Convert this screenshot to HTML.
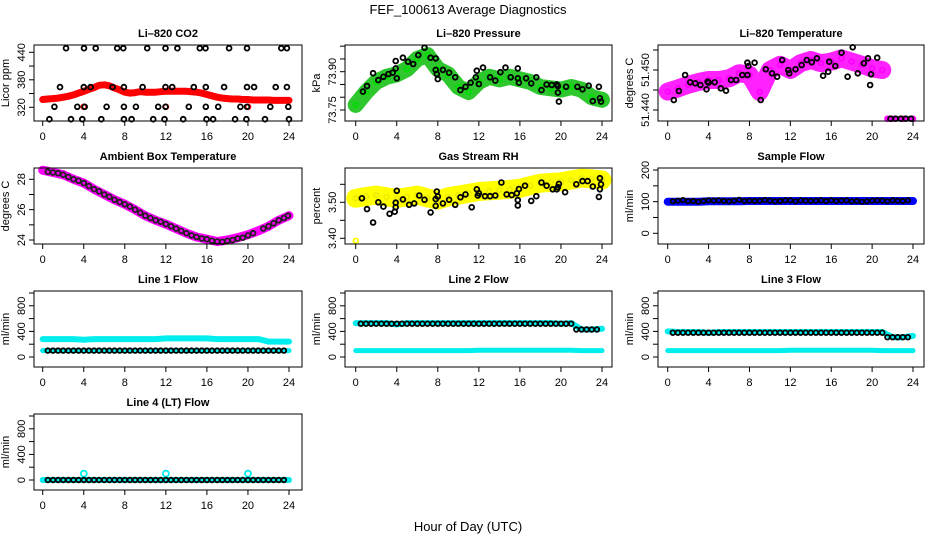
<!DOCTYPE html>
<html><head><meta charset="utf-8"><style>
html,body{margin:0;padding:0;background:#fff}
svg{display:block;font-family:"Liberation Sans",sans-serif}
</style></head><body>
<svg id="chart" width="936" height="540" viewBox="0 0 936 540" xmlns="http://www.w3.org/2000/svg">
<rect width="936" height="540" fill="#fff"/>
<text x="468" y="14" text-anchor="middle" font-size="13">FEF_100613  Average Diagnostics</text>
<text x="468" y="531" text-anchor="middle" font-size="13">Hour of Day (UTC)</text>
</svg>
<script>
// ---- data ----
const xTicks = [0,4,8,12,16,20,24];
const H25 = [0,1,2,3,4,5,6,7,8,9,10,11,12,13,14,15,16,17,18,19,20,21,22,23,24];
const H49 = [0,0.5,1,1.5,2,2.5,3,3.5,4,4.5,5,5.5,6,6.5,7,7.5,8,8.5,9,9.5,10,10.5,11,11.5,12,12.5,13,13.5,14,14.5,15,15.5,16,16.5,17,17.5,18,18.5,19,19.5,20,20.5,21,21.5,22,22.5,23,23.5,24];
const HB = [0.5,1,1.5,2,2.5,3,3.5,4,4.5,5,5.5,6,6.5,7,7.5,8,8.5,9,9.5,10,10.5,11,11.5,12,12.5,13,13.5,14,14.5,15,15.5,16,16.5,17,17.5,18,18.5,19,19.5,20,20.5,21,21.5,22,22.5,23,23.5];

const co2Red = [337,338,339,340,342,344,347,351,355,359,363,368,369,367,362,358,353,351,352,354,353,353,353,354,355,355,355,355,355,354,353,351,348,345,342,340,339,338,338,337,337,336,336,336,336,335,335,335,335];
const co2OutT = [4,12,20];
const co2OutV = [321,321,321];
const co2BlackT = [2.27,4.02,5.16,7.26,7.85,10.18,11.97,13.13,15.31,15.86,18.16,19.91,23.25,23.8,
 1.69,4.0,4.67,6.81,7.91,9.73,11.97,12.62,14.72,15.89,17.68,19.91,20.6,22.7,23.8,
 1.14,3.37,4.09,6.23,7.91,9.08,11.25,11.97,14.24,15.89,17.1,19.26,19.91,22.18,23.93,
 0.65,2.76,3.86,5.71,7.91,8.66,10.77,11.87,13.69,15.96,16.6,18.75,19.85,21.66,24.0];
const co2BlackV = [449,449,449,449,449,449,449,449,449,449,449,449,449,449,
 364,364,364,364,364,364,364,364,364,364,364,364,364,364,364,
 321,321,321,321,321,321,321,321,321,321,321,321,321,321,321,
 294,294,294,294,294,294,294,294,294,294,294,294,294,294,294];

const presGreen = [73.77,73.82,73.86,73.88,73.89,73.91,73.95,73.965,73.91,73.89,73.84,73.82,73.86,73.88,73.87,73.88,73.87,73.86,73.84,73.835,73.83,73.84,73.83,73.80,73.79];
const presBlackT = [0.7,1.1,1.7,2.2,2.7,3.2,3.6,3.9,3.9,4.0,4.6,5.1,5.6,6.1,6.7,7.3,7.8,7.8,7.9,8.0,8.5,9.1,9.7,10.2,10.7,11.2,11.7,11.8,12.0,12.4,13.1,13.6,14.1,14.6,15.1,15.8,15.8,15.9,16.6,17.1,17.6,18.1,18.6,19.1,19.6,19.7,19.7,19.8,20.5,21.6,22.1,22.7,23.1,23.7,23.8,23.9];
const presBlackV = [73.822,73.844,73.894,73.867,73.880,73.891,73.896,73.913,73.942,73.874,73.955,73.939,73.930,73.965,73.994,73.955,73.952,73.907,73.891,73.871,73.907,73.896,73.878,73.828,73.841,73.857,73.878,73.904,73.852,73.916,73.878,73.865,73.898,73.916,73.878,73.913,73.874,73.857,73.874,73.854,73.878,73.828,73.850,73.848,73.850,73.818,73.844,73.783,73.841,73.841,73.831,73.845,73.785,73.841,73.796,73.783];

const tempMagT = [0,1,2,3,4,5,6,7,8,9,10,11,12,13,14,15,16,17,18,19,20,21];
const tempMag = [51.4446,51.4454,51.4463,51.4470,51.4475,51.4475,51.4479,51.4492,51.4488,51.4445,51.4500,51.4513,51.4500,51.4517,51.4525,51.4517,51.4521,51.4529,51.4521,51.4513,51.4504,51.4500];
const tempTailT = [21.5,22,23,24];
const tempTail = [51.4378,51.4378,51.4378,51.4378];
const tempBlackT = [0.6,1.1,1.7,2.2,2.7,3.2,3.8,3.9,4.0,4.6,5.2,5.7,6.2,6.7,7.3,7.8,7.8,7.9,8.5,9.1,9.6,10.2,10.7,11.2,11.8,11.9,12.5,13.1,13.6,14.1,14.6,15.2,15.7,15.8,16.4,17.0,17.6,18.1,18.6,19.2,19.6,19.8,19.9,20.5,21.8,22.3,22.8,23.3,23.8];
const tempBlackV = [51.4425,51.44475,51.44875,51.44692,51.44667,51.44625,51.44517,51.44708,51.44683,51.44692,51.44542,51.44483,51.4475,51.4475,51.44875,51.44875,51.45183,51.451,51.45183,51.4425,51.45017,51.44917,51.44833,51.4525,51.45,51.44917,51.45017,51.45125,51.4525,51.45192,51.45292,51.44858,51.44958,51.45208,51.451,51.45433,51.44833,51.45567,51.44917,51.45167,51.45292,51.44625,51.44892,51.45308,51.43783,51.43783,51.43783,51.43783,51.43783];

const ambMag = [28.6,28.45,28.3,28.0,27.75,27.35,27.0,26.65,26.35,26.0,25.6,25.3,25.05,24.75,24.45,24.2,24.05,23.9,24.0,24.15,24.35,24.6,24.9,25.3,25.6];
const ambBlackT = [0.5,1,1.5,2,2.5,3,3.5,4,4.5,5,5.5,6,6.5,7,7.5,8,8.5,9,9.5,10,10.5,11,11.5,12,12.5,13,13.5,14,14.5,15,15.5,16,16.5,17,17.5,18,18.5,19,19.5,20,20.5,21.5,22,22.5,23,23.5,23.9];
const ambBlackV = [28.5,28.45,28.4,28.3,28.15,28.0,27.9,27.75,27.55,27.35,27.2,27.0,26.85,26.65,26.5,26.35,26.2,26.0,25.8,25.6,25.45,25.3,25.2,25.05,24.9,24.75,24.6,24.45,24.3,24.2,24.1,24.05,23.95,23.9,23.88,23.95,24.0,24.1,24.15,24.3,24.45,24.75,24.9,25.1,25.3,25.45,25.6];

const rhYellow = [3.511,3.516,3.52,3.515,3.511,3.515,3.52,3.512,3.506,3.515,3.52,3.525,3.53,3.532,3.534,3.536,3.539,3.546,3.553,3.555,3.557,3.562,3.567,3.565,3.562];
const rhOutT = [0];
const rhOutV = [3.393];
const rhBlackT = [0.6,1.1,1.7,2.2,2.7,3.3,3.8,3.9,3.9,4.0,4.6,5.2,5.7,6.2,6.7,7.3,7.8,7.8,7.9,8.0,8.5,9.1,9.7,10.2,10.7,11.3,11.8,11.9,12.0,12.6,13.1,13.6,14.2,14.7,15.2,15.7,15.8,15.8,15.9,16.5,17.1,17.6,18.1,18.6,19.2,19.6,19.7,19.8,20.4,21.5,22.1,22.6,23.1,23.7,23.8,23.8,23.9];
const rhBlackV = [3.511,3.481,3.444,3.500,3.488,3.468,3.474,3.499,3.486,3.532,3.508,3.493,3.497,3.519,3.507,3.472,3.490,3.509,3.530,3.516,3.497,3.507,3.493,3.514,3.522,3.486,3.536,3.519,3.525,3.517,3.517,3.519,3.555,3.522,3.520,3.525,3.506,3.491,3.537,3.546,3.504,3.517,3.555,3.546,3.536,3.536,3.542,3.551,3.528,3.550,3.559,3.559,3.544,3.515,3.536,3.567,3.550];

const sampleBlue = [100,100,100,100,101,101,101,101,102,102,102,102,102,102,102,102,102,102,102,102,102,102,102,102,102];
const sampleBlack = [101,103,105,101,102,100,102,104,103,104,102,101,103,106,102,103,102,103,105,103,101,102,104,104,101,104,103,102,103,104,102,104,102,103,104,101,102,100,101,103,104,103,101,104,103,102,104];

const line1Upper = [280,280,280,280,270,280,280,280,280,280,280,280,290,290,290,290,290,280,280,280,280,280,240,240,240];
const line1Lower = [100,100,100,100,100,100,100,100,100,100,100,100,100,100,100,100,100,100,100,100,100,100,100,100,100];
const line1Black = [100,100,100,100,100,100,100,100,100,100,100,100,100,100,100,100,100,100,100,100,100,100,100,100,100,100,100,100,100,100,100,100,100,100,100,100,100,100,100,100,100,100,100,100,100,100,100];

const line2Upper = [530,530,530,530,510,530,530,530,530,530,530,530,530,530,530,530,530,530,530,530,520,530,430,430,440];
const line2Lower = [100,100,100,100,100,100,100,100,100,100,100,100,105,105,105,105,105,105,105,105,105,105,100,100,100];
const line2Black = [520,520,520,520,520,520,520,520,520,520,520,520,520,520,520,520,520,520,520,520,520,520,520,520,520,520,520,520,520,520,520,520,520,520,520,520,520,520,520,520,520,520,430,430,430,430,430];

const line3Upper = [400,390,390,390,380,390,390,390,390,390,390,390,390,390,390,390,390,390,390,390,390,390,310,310,330];
const line3Lower = [100,100,100,100,100,100,100,100,100,100,100,100,105,105,105,105,105,105,105,105,105,100,100,100,100];
const line3Black = [380,380,380,380,380,380,380,380,380,380,380,380,380,380,380,380,380,380,380,380,380,380,380,380,380,380,380,380,380,380,380,380,380,380,380,380,380,380,380,380,380,380,310,310,310,310,310];

const line4Cyan = [0,0,0,0,0,0,0,0,0,0,0,0,0,0,0,0,0,0,0,0,0,0,0,0,0];
const line4OutT = [4,12,20];
const line4OutV = [100,100,100];
const line4Black = [0,0,0,0,0,0,0,0,0,0,0,0,0,0,0,0,0,0,0,0,0,0,0,0,0,0,0,0,0,0,0,0,0,0,0,0,0,0,0,0,0,0,0,0,0,0,0];

// ---- layout ----
const NS = "http://www.w3.org/2000/svg";
const svg = document.getElementById('chart');
const cols = [{l:34,r:302,x0:42.7,x24:289},{l:345,r:612,x0:355.7,x24:602},{l:658,r:924,x0:667.7,x24:913}];
const rows = [{t:45,b:121},{t:168,b:244},{t:291,b:367},{t:414,b:490}];
function mk(tag, attrs, parent){const e=document.createElementNS(NS,tag);for(const k in attrs)e.setAttribute(k,attrs[k]);(parent||svg).appendChild(e);return e;}

function panel(p){
  const c=cols[p.col], r=rows[p.row];
  const g=mk('g',{});
  
  
  const xs=v=>c.x0+(v/24)*(c.x24-c.x0);
  const ys=v=>p.y1+(v-p.v1)*(p.y2-p.y1)/(p.v2-p.v1);
  const t=mk('text',{x:(c.l+c.r)/2,y:r.t-8,'text-anchor':'middle','font-size':11,'font-weight':'bold'},g);
  t.textContent=p.title;
  
  
  p.series.forEach(s=>{
    const sg=mk('g',{},g);
    
    
    if(s.band){
      const q=s.t.map((tt,i)=>xs(tt).toFixed(1)+','+ys(s.v[i]).toFixed(1));
      const pl=mk('polyline',{points:q.join(' '),fill:'none',stroke:s.color,'stroke-width':s.band,'stroke-linejoin':'round','stroke-linecap':'round'},sg);
      
      
    }
    if(s.pts!==false){
      s.t.forEach((tt,i)=>{
        const ci=mk('circle',{cx:xs(tt).toFixed(1),cy:ys(s.v[i]).toFixed(1),r:s.r||2.4,fill:'none',stroke:s.pc||s.color,'stroke-width':s.sw||1.8},sg);
        
        
      });
    }
  });
  const bx=mk('rect',{x:c.l,y:r.t,width:c.r-c.l,height:r.b-r.t,fill:'none',stroke:'#000','stroke-width':1},g);
  
  
  const xa=mk('g',{},g);
  
  
  xTicks.forEach(v=>{
    mk('line',{x1:xs(v),x2:xs(v),y1:r.b,y2:r.b+5,stroke:'#000'},xa);
    const tl=mk('text',{x:xs(v),y:r.b+19,'text-anchor':'middle','font-size':11},xa);
    tl.textContent=v;
    
    
  });
  const ya=mk('g',{},g);
  
  
  p.ticks.forEach(v=>mk('line',{x1:c.l-5,x2:c.l,y1:ys(v),y2:ys(v),stroke:'#000'},ya));
  p.labels.forEach((v,i)=>{
    const yy=ys(v), xx=c.l-9;
    const tl=mk('text',{x:xx,y:yy,'text-anchor':'middle','font-size':11,transform:`rotate(-90 ${xx} ${yy})`},ya);
    tl.textContent=p.labelText[i];
    
    
  });
  const yx=c.l-25, yy=(r.t+r.b)/2;
  const yt=mk('text',{x:yx,y:yy,'text-anchor':'middle','font-size':11,transform:`rotate(-90 ${yx} ${yy})`},g);
  yt.textContent=p.ylab;
  
  
}

const cyan='#00eeee';
const flowTicks=[0,200,400,600,800,1000], flowLabels=[0,400,800], flowText=['0','400','800'];
panel({id:'co2',title:'Li\u2013820 CO2',ylab:'Licor ppm',col:0,row:0,v1:320,y1:107.3,v2:440,y2:52.3,
  ticks:[320,350,380,410,440],labels:[320,380,440],labelText:['320','380','440'],
  series:[{name:'red-series',t:H49,v:co2Red,color:'#ff0000',band:7,r:2.2},
          {name:'red-outliers',t:co2OutT,v:co2OutV,color:'#ff0000'},
          {name:'black-points',t:co2BlackT,v:co2BlackV,color:'#000'}]});
panel({id:'pressure',title:'Li\u2013820 Pressure',ylab:'kPa',col:1,row:0,v1:73.75,y1:110,v2:73.90,y2:71.7,
  ticks:[73.75,73.80,73.85,73.90,73.95,74.00],labels:[73.75,73.90],labelText:['73.75','73.90'],
  series:[{name:'green-series',t:H25,v:presGreen,color:'#2ec82e',band:16,pc:'#00dd00'},
          {name:'black-points',t:presBlackT,v:presBlackV,color:'#000'}]});
panel({id:'temperature',title:'Li\u2013820 Temperature',ylab:'degrees C',col:2,row:0,v1:51.44,y1:110,v2:51.455,y2:50,
  ticks:[51.44,51.445,51.45,51.455],labels:[51.44,51.45],labelText:['51.440','51.450'],
  series:[{name:'magenta-series',t:tempMagT,v:tempMag,color:'#ff22ff',band:18,pc:'#ff00ff'},
          {name:'magenta-tail',t:tempTailT,v:tempTail,color:'#ff00ff',band:5},
          {name:'black-points',t:tempBlackT,v:tempBlackV,color:'#000'}]});
panel({id:'ambient',title:'Ambient Box Temperature',ylab:'degrees C',col:0,row:1,v1:24,y1:240,v2:28,y2:179.3,
  ticks:[24,25,26,27,28],labels:[24,26,28],labelText:['24','26','28'],
  series:[{name:'magenta-series',t:H25,v:ambMag,color:'#ff00ff',band:9,pts:false},
          {name:'black-points',t:ambBlackT,v:ambBlackV,color:'#222'}]});
panel({id:'rh',title:'Gas Stream RH',ylab:'percent',col:1,row:1,v1:3.40,y1:238.3,v2:3.50,y2:202.3,
  ticks:[3.40,3.45,3.50,3.55],labels:[3.40,3.50],labelText:['3.40','3.50'],
  series:[{name:'yellow-series',t:H25,v:rhYellow,color:'#ffff00',band:19,pc:'#eeee00'},
          {name:'yellow-outliers',t:rhOutT,v:rhOutV,color:'#ffff00'},
          {name:'black-points',t:rhBlackT,v:rhBlackV,color:'#000'}]});
panel({id:'sample-flow',title:'Sample Flow',ylab:'ml/min',col:2,row:1,v1:0,y1:233.3,v2:200,y2:170,
  ticks:[0,50,100,150,200],labels:[0,100,200],labelText:['0','100','200'],
  series:[{name:'blue-series',t:H25,v:sampleBlue,color:'#0000ff',band:8,pts:false},
          {name:'black-points',t:HB,v:sampleBlack,color:'#000',r:2.2}]});
panel({id:'line1',title:'Line 1 Flow',ylab:'ml/min',col:0,row:2,v1:0,y1:357,v2:1000,y2:293,
  ticks:flowTicks,labels:flowLabels,labelText:flowText,
  series:[{name:'cyan-upper',t:H25,v:line1Upper,color:cyan,band:6,pts:false},
          {name:'cyan-lower',t:H25,v:line1Lower,color:cyan,band:5,pts:false},
          {name:'black-points',t:HB,v:line1Black,color:'#000',r:2.3}]});
panel({id:'line2',title:'Line 2 Flow',ylab:'ml/min',col:1,row:2,v1:0,y1:357,v2:1000,y2:293,
  ticks:flowTicks,labels:flowLabels,labelText:flowText,
  series:[{name:'cyan-upper',t:H25,v:line2Upper,color:cyan,band:6,pts:false},
          {name:'cyan-lower',t:H25,v:line2Lower,color:cyan,band:5,pts:false},
          {name:'black-points',t:HB,v:line2Black,color:'#000',r:2.3}]});
panel({id:'line3',title:'Line 3 Flow',ylab:'ml/min',col:2,row:2,v1:0,y1:357,v2:1000,y2:293,
  ticks:flowTicks,labels:flowLabels,labelText:flowText,
  series:[{name:'cyan-upper',t:H25,v:line3Upper,color:cyan,band:6,pts:false},
          {name:'cyan-lower',t:H25,v:line3Lower,color:cyan,band:5,pts:false},
          {name:'black-points',t:HB,v:line3Black,color:'#000',r:2.3}]});
panel({id:'line4',title:'Line 4 (LT) Flow',ylab:'ml/min',col:0,row:3,v1:0,y1:480,v2:1000,y2:416,
  ticks:flowTicks,labels:flowLabels,labelText:flowText,
  series:[{name:'cyan-series',t:H25,v:line4Cyan,color:cyan,band:6,pts:false},
          {name:'cyan-outliers',t:line4OutT,v:line4OutV,color:cyan,r:3},
          {name:'black-points',t:HB,v:line4Black,color:'#000',r:2.3}]});
</script>
</body></html>
